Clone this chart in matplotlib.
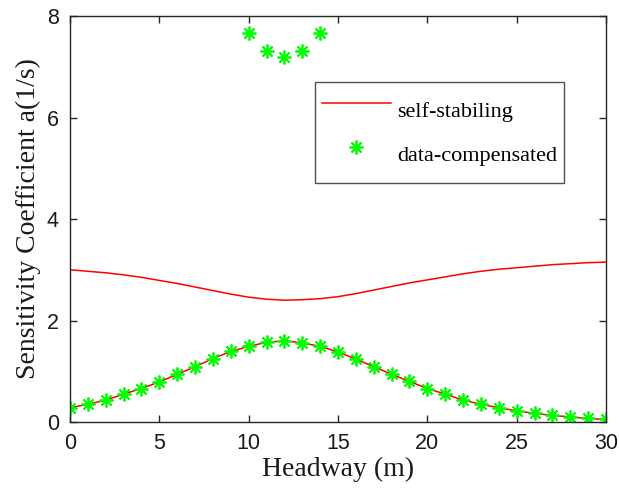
import matplotlib
matplotlib.use("Agg")
import matplotlib.pyplot as plt
import numpy as np

# headway samples (m)
headway = list(range(0, 31))

# lower branch, self-stabiling curve and compensated data coincide
lower_vals = [0.28, 0.35, 0.43, 0.55, 0.66, 0.79, 0.94, 1.09, 1.25, 1.39,
              1.49, 1.57, 1.60, 1.56, 1.49, 1.38, 1.24, 1.09, 0.94, 0.80,
              0.66, 0.55, 0.43, 0.35, 0.28, 0.22, 0.17, 0.13, 0.10, 0.07, 0.05]

# upper branch of the self-stabiling curve
upper_vals = [3.00, 2.97, 2.94, 2.90, 2.85, 2.79, 2.73, 2.66, 2.59, 2.52,
              2.46, 2.42, 2.40, 2.41, 2.43, 2.47, 2.53, 2.60, 2.67, 2.74,
              2.80, 2.86, 2.92, 2.97, 3.01, 3.04, 3.07, 3.10, 3.12, 3.14, 3.15]

# compensated data on the upper branch
comp_x = [10, 11, 12, 13, 14]
comp_vals = [7.66, 7.32, 7.20, 7.32, 7.66]

gray = (0.15, 0.15, 0.15)
serif = ["Liberation Serif", "DejaVu Serif"]
sans = ["Liberation Sans", "DejaVu Sans"]

fig = plt.figure(figsize=(6.19, 4.97), dpi=100)
ax = fig.add_axes([0.1131, 0.1509, 0.8659, 0.8169])

ast = (8, 2, 0)
ax.plot(headway, lower_vals, color="#ff0000", lw=1.1, label="self-stabiling")
ax.plot(headway, upper_vals, color="#ff0000", lw=1.1)
ax.plot(headway, lower_vals, ls="none", marker=ast, ms=10, mew=1.3,
        color="#00ff00", label="data-compensated")
ax.plot(comp_x, comp_vals, ls="none", marker=ast, ms=10, mew=1.3,
        color="#00ff00")

ax.set_xlim(0, 30)
ax.set_ylim(0, 8)
ax.set_xticks([0, 5, 10, 15, 20, 25, 30])
ax.set_yticks([0, 2, 4, 6, 8])
ax.tick_params(direction="in", top=True, right=True, length=5, width=1,
               color=gray, labelsize=15.5, labelcolor="#1a1a1a", pad=8)
for lab in ax.get_xticklabels() + ax.get_yticklabels():
    lab.set_family(sans)
for s in ax.spines.values():
    s.set_color(gray)
    s.set_linewidth(1)

ax.set_xlabel("Headway (m)", fontsize=20, family=serif, color="#1a1a1a", labelpad=2)
ax.set_ylabel("Sensitivity Coefficient a(1/s)", fontsize=20, family=serif,
              color="#1a1a1a", labelpad=4)

leg = ax.legend(loc="upper left", bbox_to_anchor=(0.457, 0.837),
                prop={"family": serif, "size": 16}, frameon=True, fancybox=False,
                edgecolor=gray, handlelength=3.1, handletextpad=0.3,
                handleheight=2.65, borderpad=0.3, labelspacing=0.0,
                borderaxespad=0)
leg.get_frame().set_linewidth(1)

fig.savefig("out.png", dpi=100)
